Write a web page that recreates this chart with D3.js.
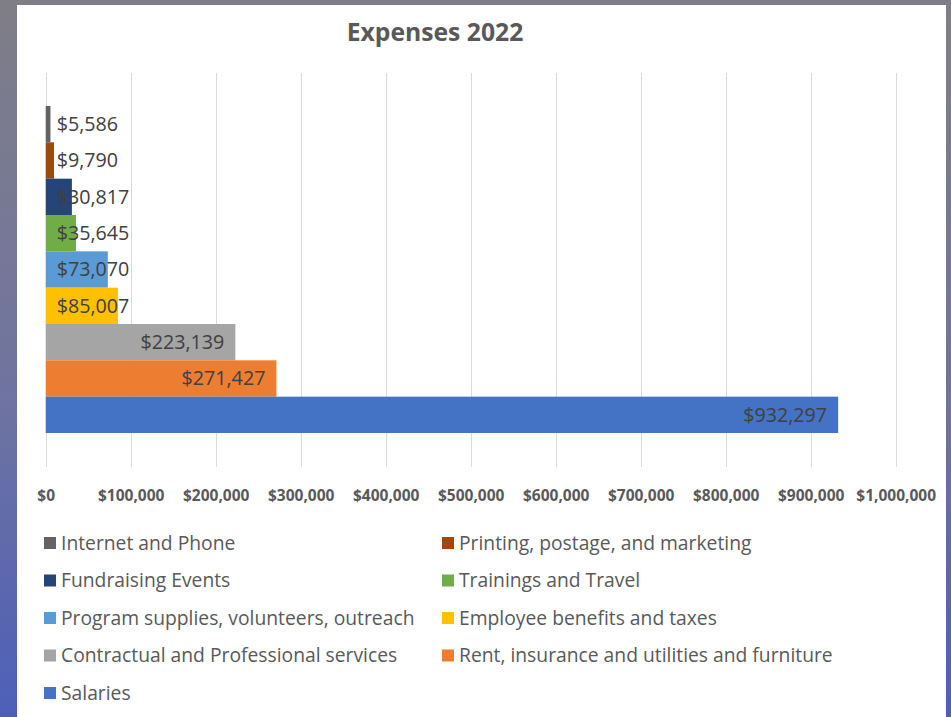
<!DOCTYPE html>
<html>
<head>
<meta charset="utf-8">
<script src="https://cdn.jsdelivr.net/npm/d3@7"></script>
<style>
  body { margin: 0; background: #7e7d86; }
  svg { display: block; }
  text { font-family: "Open Sans", "Noto Sans", sans-serif; }
</style>
</head>
<body>
<svg></svg>
<script>
var categories = [
  'Internet and Phone',
  'Printing, postage, and marketing',
  'Fundraising Events',
  'Trainings and Travel',
  'Program supplies, volunteers, outreach',
  'Employee benefits and taxes',
  'Contractual and Professional services',
  'Rent, insurance and utilities and furniture',
  'Salaries'
];
var values = [5586, 9790, 30817, 35645, 73070, 85007, 223139, 271427, 932297];
var colors = ['#636363', '#9e480e', '#264478', '#70ad47', '#5b9bd5', '#ffc000', '#a5a5a5', '#ed7d31', '#4472c4'];
var xTicks = [0, 100000, 200000, 300000, 400000, 500000, 600000, 700000, 800000, 900000, 1000000];

var width = 951;
var height = 717;
var plotTop = 73;
var plotBottom = 467;

var data = categories.map((c, i) => ({ name: c, value: values[i], color: colors[i] }));

var svg = d3.select('svg')
            .attr('width', width)
            .attr('height', height);

// backdrop outside the chart card
var grad = svg.append('defs').append('linearGradient')
    .attr('id', 'bg')
    .attr('x1', 0).attr('y1', 0).attr('x2', 0).attr('y2', 1);
grad.append('stop').attr('offset', '0%').attr('stop-color', '#7f7e87');
grad.append('stop').attr('offset', '55%').attr('stop-color', '#6f74a0');
grad.append('stop').attr('offset', '100%').attr('stop-color', '#4d5fb8');

svg.append('rect')
    .attr('width', width)
    .attr('height', height)
    .attr('fill', 'url(#bg)');

svg.append('rect')
    .attr('x', 17)
    .attr('y', 5)
    .attr('width', 929)
    .attr('height', height - 5)
    .attr('fill', '#ffffff');

var xScale = d3.scaleLinear()
               .domain([0, 1000000])
               .range([45.7, 895.7]);

var yScale = d3.scaleBand()
               .domain(categories)
               .range([plotTop + 33, plotBottom - 34])
               .padding(0);

// gridlines
svg.append('g')
    .selectAll('line')
    .data(xTicks)
    .enter()
    .append('line')
      .attr('x1', d => Math.round(xScale(d)) + 0.5)
      .attr('x2', d => Math.round(xScale(d)) + 0.5)
      .attr('y1', plotTop)
      .attr('y2', plotBottom)
      .attr('stroke', '#d9d9d9')
      .attr('stroke-width', 1);

// x axis labels
var xAxis = svg.append('g')
    .attr('transform', 'translate(0,' + (plotBottom + 31) + ')')
    .call(d3.axisBottom(xScale)
            .tickValues(xTicks)
            .tickSize(0)
            .tickFormat(d => '$' + d3.format(',')(d)));
xAxis.select('.domain').remove();
xAxis.selectAll('text')
    .attr('dy', 0)
    .attr('fill', '#595959')
    .style('font-size', '15.5px')
    .style('font-weight', 'bold')
    .style('font-family', '"Open Sans", sans-serif');

// bars
svg.append('g')
    .selectAll('rect')
    .data(data)
    .enter()
    .append('rect')
      .attr('x', xScale(0))
      .attr('y', d => yScale(d.name))
      .attr('width', d => xScale(d.value) - xScale(0))
      .attr('height', yScale.bandwidth())
      .attr('fill', d => d.color);

// data labels, inside end, clamped to the bar base
var labels = svg.append('g')
    .selectAll('text')
    .data(data)
    .enter()
    .append('text')
      .attr('y', d => yScale(d.name) + yScale.bandwidth() / 2)
      .attr('dy', '0.35em')
      .attr('fill', '#404040')
      .style('font-size', '19.7px')
      .text(d => '$' + d3.format(',')(d.value));

labels.each(function(d) {
  var w = this.getComputedTextLength();
  var x = Math.max(xScale(d.value) - 11 - w, xScale(0) + 11);
  d3.select(this).attr('x', x);
});

// title
svg.append('text')
    .attr('x', 435)
    .attr('y', 41)
    .attr('text-anchor', 'middle')
    .attr('fill', '#595959')
    .style('font-size', '24.7px')
    .style('font-weight', 'bold')
    .text('Expenses 2022');

// legend, two columns
var legend = svg.append('g')
    .selectAll('g')
    .data(data)
    .enter()
    .append('g')
      .attr('transform', (d, i) => 'translate(' + (i % 2 === 0 ? 44 : 442) + ',' + (543 + Math.floor(i / 2) * 37.5) + ')');

legend.append('rect')
    .attr('x', 0)
    .attr('y', -6)
    .attr('width', 12)
    .attr('height', 12)
    .attr('fill', d => d.color);

legend.append('text')
    .attr('x', 17)
    .attr('dy', '0.35em')
    .attr('fill', '#595959')
    .style('font-size', '19.3px')
    .text(d => d.name);
</script>
</body>
</html>
